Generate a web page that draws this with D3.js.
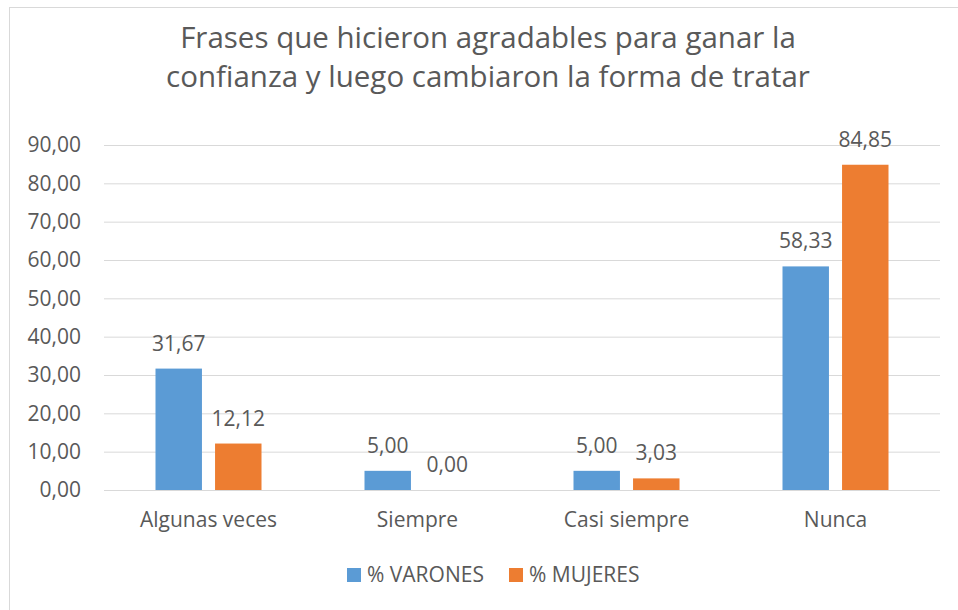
<!DOCTYPE html>
<html>
<head>
<meta charset="utf-8">
<script src="https://cdn.jsdelivr.net/npm/d3@7"></script>
<style>
  body { margin: 0; background: #fff; }
  text { font-family: "Open Sans", sans-serif; fill: #595959; }
  .grid line { stroke: #d9d9d9; stroke-width: 1; }
  .grid .domain { display: none; }
  .axis .domain { display: none; }
</style>
</head>
<body>
<div id="chart"></div>
<script>

var titleLines = ["Frases que hicieron agradables para ganar la",
  "confianza y luego cambiaron la forma de tratar"];
var categories = ["Algunas veces", "Siempre", "Casi siempre", "Nunca"];
var seriesNames = ["% VARONES", "% MUJERES"];
var varones = [31.67, 5.00, 5.00, 58.33];
var mujeres = [12.12, 0.00, 3.03, 84.85];
var yTicks = [0, 10, 20, 30, 40, 50, 60, 70, 80, 90];
var colors = ["#5b9bd5", "#ed7d31"];

var data = categories.map(function (c, i) {
  return { category: c, values: [varones[i], mujeres[i]] };
});

var locale = d3.formatLocale({ decimal: ",", thousands: ".", grouping: [3], currency: ["", ""] });
var fmt = locale.format(".2f");

var W = 958, H = 610;
var margin = { top: 145, right: 18, bottom: 120, left: 104 },
  width = W - margin.left - margin.right,
  height = H - margin.top - margin.bottom;

var svg = d3.select("#chart").append("svg")
  .attr("width", W)
  .attr("height", H);

// chart frame
svg.append("rect")
  .attr("x", 9.5).attr("y", 7.5)
  .attr("width", W).attr("height", H)
  .attr("fill", "none")
  .attr("stroke", "#d9d9d9");

svg.selectAll(".title")
  .data(titleLines)
  .enter().append("text")
  .attr("class", "title")
  .attr("x", 488)
  .attr("y", function (d, i) { return 48 + i * 39; })
  .attr("text-anchor", "middle")
  .style("font-size", "29.5px")
  .text(function (d) { return d; });

var g = svg.append("g")
  .attr("transform", "translate(" + margin.left + "," + margin.top + ")");

var x0 = d3.scaleBand()
  .domain(categories)
  .range([0, width]);

var groupW = 106;
var x1 = d3.scaleBand()
  .domain([0, 1])
  .range([(x0.bandwidth() - groupW) / 2, (x0.bandwidth() + groupW) / 2])
  .paddingInner(0.22);

var y = d3.scaleLinear()
  .domain([0, 90])
  .range([height, 0]);

g.append("g")
  .attr("class", "grid")
  .call(d3.axisLeft(y).tickValues(yTicks).tickSize(-width).tickFormat(""));

g.append("g")
  .attr("class", "axis")
  .call(d3.axisLeft(y).tickValues(yTicks).tickSize(0).tickPadding(23).tickFormat(fmt))
  .selectAll("text")
  .style("font-size", "21px")
  .style("fill", "#595959");

g.append("g")
  .attr("class", "axis")
  .attr("transform", "translate(0," + height + ")")
  .call(d3.axisBottom(x0).tickSize(0).tickPadding(22))
  .selectAll("text")
  .style("font-size", "21px")
  .style("fill", "#595959");

var cat = g.selectAll(".cat")
  .data(data)
  .enter().append("g")
  .attr("class", "cat")
  .attr("transform", function (d) { return "translate(" + x0(d.category) + ",0)"; });

cat.selectAll("rect")
  .data(function (d) { return d.values; })
  .enter().append("rect")
  .attr("x", function (d, i) { return x1(i); })
  .attr("y", function (d) { return y(d); })
  .attr("width", x1.bandwidth())
  .attr("height", function (d) { return height - y(d); })
  .attr("fill", function (d, i) { return colors[i]; });

cat.selectAll(".label")
  .data(function (d) { return d.values; })
  .enter().append("text")
  .attr("class", "label")
  .attr("x", function (d, i) { return x1(i) + x1.bandwidth() / 2; })
  .attr("y", function (d) { return y(d) - 18; })
  .attr("text-anchor", "middle")
  .style("font-size", "21px")
  .text(function (d) { return fmt(d); });

// legend
var legendX = [347, 509];
var legend = svg.selectAll(".legend")
  .data(seriesNames)
  .enter().append("g")
  .attr("class", "legend")
  .attr("transform", function (d, i) { return "translate(" + legendX[i] + ",568)"; });

legend.append("rect")
  .attr("width", 14).attr("height", 14)
  .attr("fill", function (d, i) { return colors[i]; });

legend.append("text")
  .attr("x", 20)
  .attr("y", 14)
  .style("font-size", "21px")
  .text(function (d) { return d; });

</script>
</body>
</html>
